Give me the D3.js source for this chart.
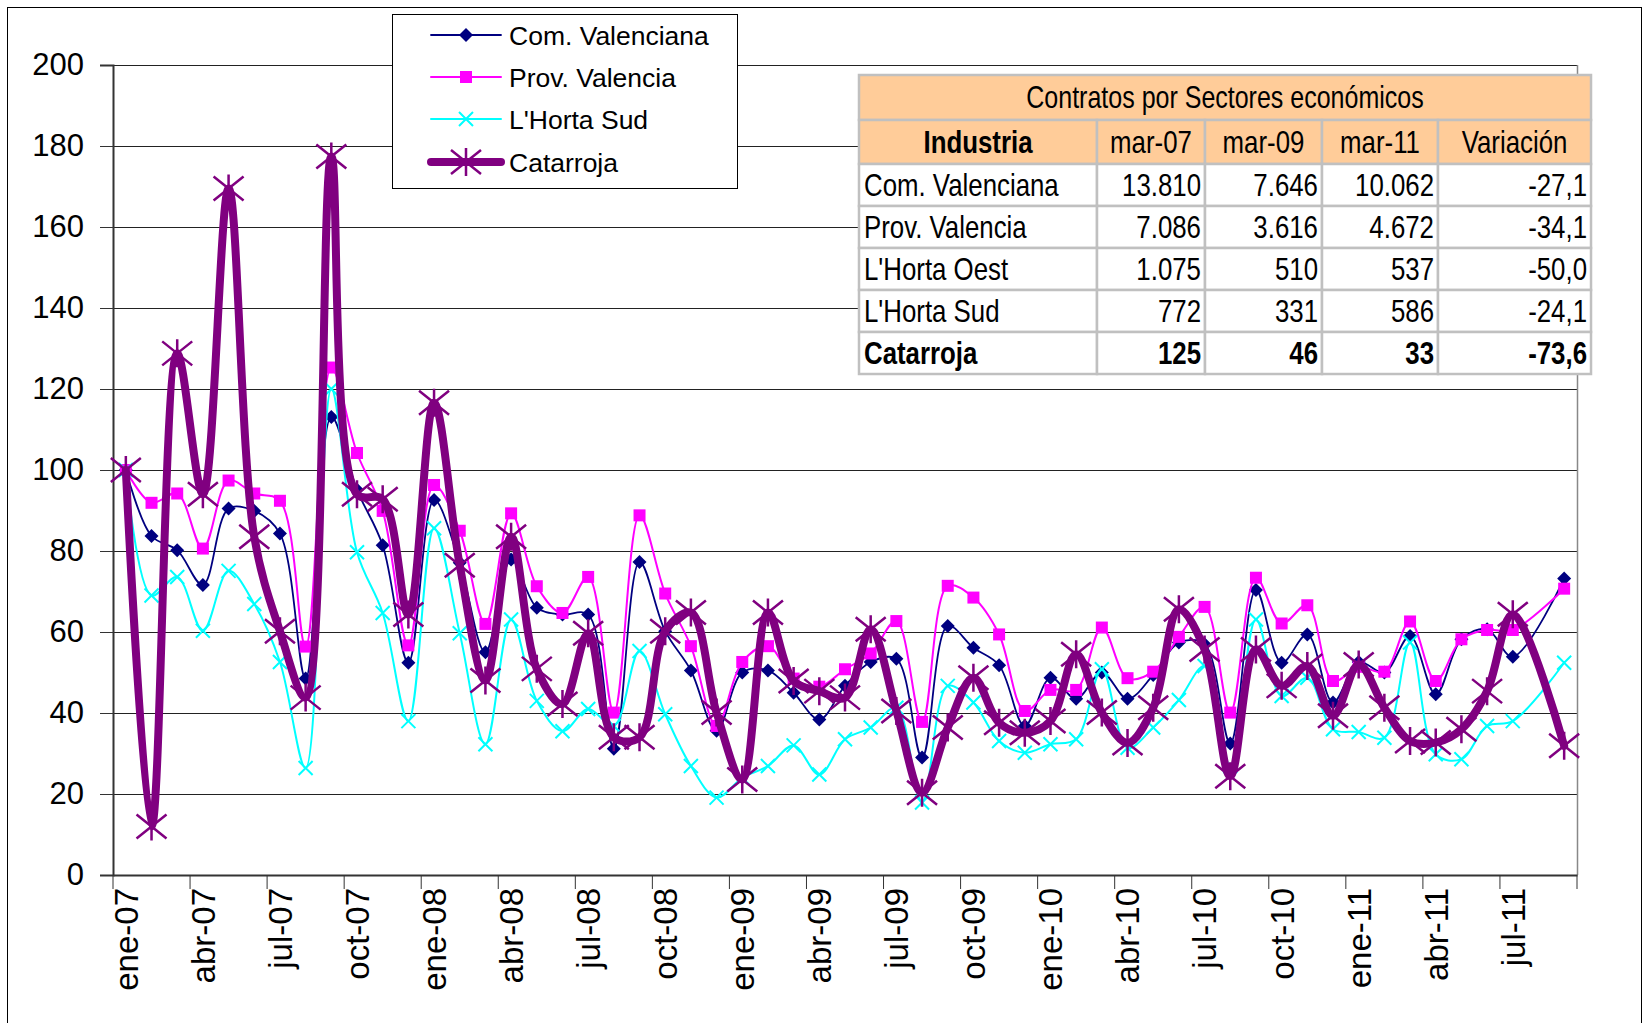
<!DOCTYPE html>
<html lang="es">
<head>
<meta charset="UTF-8">
<title>Contratos Industria</title>
<style>
  body { margin: 0; background: #fff; }
  svg { display: block; }
  .axis text { font-family: "Liberation Sans", Arial, sans-serif; fill: #000; }
  .tbl text { font-family: "Liberation Sans", Arial, sans-serif; fill: #000; }
</style>
</head>
<body>
<svg id="chart" width="1643" height="1023"></svg>
<script src="https://d3js.org/d3.v7.min.js"></script>
<script>
// months (ene-07 .. sep-11), ago-11 has no data
const months = [
  "ene-07","feb-07","mar-07","abr-07","may-07","jun-07","jul-07","ago-07","sep-07","oct-07","nov-07","dic-07",
  "ene-08","feb-08","mar-08","abr-08","may-08","jun-08","jul-08","ago-08","sep-08","oct-08","nov-08","dic-08",
  "ene-09","feb-09","mar-09","abr-09","may-09","jun-09","jul-09","ago-09","sep-09","oct-09","nov-09","dic-09",
  "ene-10","feb-10","mar-10","abr-10","may-10","jun-10","jul-10","ago-10","sep-10","oct-10","nov-10","dic-10",
  "ene-11","feb-11","mar-11","abr-11","may-11","jun-11","jul-11","ago-11","sep-11"
];

const comValenciana = [100, 83.7, 80.2, 71.6, 90.5, 89.9, 84.3, 48.5, 113.1, 95.1,
  81.4, 52.4, 92.6, 77.1, 55, 77.9, 66, 64.3, 64.3, 31.2,
  77.3, 60.2, 50.5, 35.6, 50, 50.5, 45, 38.4, 46.7, 52.6,
  53.4, 29, 61.5, 56.1, 51.8, 36.8, 48.7, 43.5, 50, 43.5,
  49.4, 57.4, 57, 32.5, 70.4, 52.4, 59.4, 42.6, 52.6, 50,
  59, 44.6, 58.2, 60.7, 53.9, null, 73.2];

const provValencia = [100, 91.9, 94.2, 80.6, 97.4, 94.2, 92.4, 56.4, 125.3, 104.2,
  89.9, 56.7, 96.3, 85, 62, 89.3, 71.3, 64.7, 73.6, 40.1,
  88.8, 69.5, 56.5, 36.8, 52.6, 56.5, 48.5, 46.5, 50.8, 54.7,
  62.7, 37.8, 71.4, 68.5, 59.4, 40.5, 45.7, 45.7, 61.1, 48.6,
  50.2, 58.8, 66.2, 40.1, 73.4, 62.1, 66.6, 47.9, 51.4, 50.2,
  62.6, 47.9, 58.2, 60.5, 60.5, null, 70.7];

const hortaSud = [100, 69, 73.6, 60.3, 75.1, 66.9, 52.6, 26.4, 120, 79.7,
  64.7, 38, 85.6, 59.7, 32.3, 63.1, 43, 35.5, 41, 36.8,
  55.3, 39.7, 26.9, 19.1, 24, 26.9, 32, 24.8, 33.5, 36.4,
  41.3, 17.9, 46.7, 42.6, 33.1, 30.2, 32.3, 33.5, 50.8, 31.4,
  36.4, 43.2, 51.6, 26.9, 63.1, 44.2, 48.7, 36, 35.3, 33.9,
  57.4, 29.8, 28.6, 36.8, 38, null, 52.4];

const catarroja = [100, 12, 128.8, 94, 169.5, 83.5, 60.2, 43.8, 177.4, 94,
  92.8, 64.3, 116.6, 76.5, 48, 83.5, 50.9, 42.2, 59.7, 34,
  34, 60.2, 64.8, 40.1, 23.6, 64.8, 47.9, 45.4, 43.8, 60.7,
  40.5, 20.3, 36.4, 48.7, 37.6, 35.1, 38, 54.5, 40.1, 32.6,
  41.3, 65.6, 55.7, 24.4, 55.7, 46.7, 51.6, 39.3, 52, 41.3,
  33.1, 32.7, 36, 45.4, 64.4, null, 31.9];

const seriesNames = ["Com. Valenciana", "Prov. Valencia", "L'Horta Sud", "Catarroja"];

// table
const tableTitle = "Contratos por Sectores económicos";
const tableHeader = ["Industria", "mar-07", "mar-09", "mar-11", "Variación"];
const tableNames = ["Com. Valenciana", "Prov. Valencia", "L'Horta Oest", "L'Horta Sud", "Catarroja"];
const tableMar07 = ["13.810", "7.086", "1.075", "772", "125"];
const tableMar09 = ["7.646", "3.616", "510", "331", "46"];
const tableMar11 = ["10.062", "4.672", "537", "586", "33"];
const tableVar = ["-27,1", "-34,1", "-50,0", "-24,1", "-73,6"];

const yTicks = [0, 20, 40, 60, 80, 100, 120, 140, 160, 180, 200];

const svg = d3.select("#chart");
const W = 1643, H = 1023;
const pLeft = 113, pRight = 1577, pTop = 65, pBottom = 875;

// outer frame
svg.append("rect").attr("x", 7.5).attr("y", 7.5).attr("width", W - 9).attr("height", H + 10)
  .attr("fill", "#fff").attr("stroke", "#000").attr("stroke-width", 1);

const x = d3.scaleBand().domain(months).range([pLeft, pRight]).padding(0);
const y = d3.scaleLinear().domain([0, 200]).range([pBottom, pTop]);
const bw = x.bandwidth();
const cx = m => x(m) + bw / 2;

// gridlines
svg.append("g").selectAll("line").data(yTicks.filter(d => d > 0)).join("line")
  .attr("x1", pLeft).attr("x2", pRight)
  .attr("y1", d => Math.round(y(d)) + 0.5).attr("y2", d => Math.round(y(d)) + 0.5)
  .attr("stroke", "#222").attr("stroke-width", 1);

// plot right border
svg.append("line").attr("x1", pRight + 0.5).attr("x2", pRight + 0.5).attr("y1", pTop).attr("y2", pBottom)
  .attr("stroke", "#888").attr("stroke-width", 1.5);

// y axis
const yAxis = svg.append("g").attr("class", "axis").attr("transform", `translate(${pLeft},0)`)
  .call(d3.axisLeft(y).tickValues(yTicks).tickSize(13).tickPadding(16));
yAxis.select(".domain").attr("stroke", "#333").attr("stroke-width", 2);
yAxis.selectAll(".tick line").attr("stroke", "#333");
yAxis.selectAll("text").style("font-size", "31px");

// x axis
const labelMonths = months.filter((m, i) => i % 3 === 0);
const xAxis = svg.append("g").attr("class", "axis").attr("transform", `translate(0,${pBottom})`)
  .call(d3.axisBottom(x).tickValues(labelMonths).tickSize(14).tickSizeOuter(0));
xAxis.select(".domain").attr("stroke", "#333").attr("stroke-width", 2);
xAxis.selectAll(".tick line").attr("x1", -bw / 2).attr("x2", -bw / 2).attr("stroke", "#333");
xAxis.selectAll(".tick text")
  .style("font-size", "33px")
  .attr("text-anchor", "end")
  .attr("transform", "rotate(-90)")
  .attr("x", -13).attr("y", 0).attr("dy", "0.36em");
// closing tick at the right end
svg.append("line").attr("x1", pRight).attr("x2", pRight).attr("y1", pBottom).attr("y2", pBottom + 14)
  .attr("stroke", "#333");

// series
const series = [
  { name: seriesNames[0], values: comValenciana, color: "#000080", width: 1.8, marker: "diamond" },
  { name: seriesNames[1], values: provValencia, color: "#ff00ff", width: 2, marker: "square" },
  { name: seriesNames[2], values: hortaSud, color: "#00ffff", width: 2, marker: "x" },
  { name: seriesNames[3], values: catarroja, color: "#800080", width: 8, marker: "star" }
];

const line = d3.line().x(d => d.x).y(d => d.y).curve(d3.curveCatmullRom.alpha(0.5));

function drawMarker(g, type, color) {
  if (type === "diamond") {
    g.append("path").attr("d", "M0,-7L7,0L0,7L-7,0Z").attr("fill", color);
  } else if (type === "square") {
    g.append("rect").attr("x", -6).attr("y", -6).attr("width", 12).attr("height", 12).attr("fill", color);
  } else if (type === "x") {
    g.append("path").attr("d", "M-7,-7L7,7M-7,7L7,-7").attr("stroke", color).attr("stroke-width", 2).attr("fill", "none");
  } else if (type === "star") {
    g.append("path").attr("d", "M-15,-12L15,12M-15,12L15,-12M0,-14L0,14")
      .attr("stroke", color).attr("stroke-width", 2.5).attr("fill", "none");
  }
}

series.forEach(s => {
  const pts = months.map((m, i) => ({ x: cx(m), y: s.values[i] == null ? null : y(s.values[i]) }))
    .filter(p => p.y != null);
  svg.append("path").datum(pts).attr("d", line)
    .attr("fill", "none").attr("stroke", s.color).attr("stroke-width", s.width)
    .attr("stroke-linejoin", "round").attr("stroke-linecap", "round");
  const mg = svg.append("g");
  pts.forEach(p => {
    const g = mg.append("g").attr("transform", `translate(${p.x},${p.y})`);
    drawMarker(g, s.marker, s.color);
  });
});

// legend
const leg = svg.append("g");
leg.append("rect").attr("x", 392.5).attr("y", 14.5).attr("width", 345).attr("height", 174)
  .attr("fill", "#fff").attr("stroke", "#000").attr("stroke-width", 1);
const legY = [35, 77, 119, 162];
series.forEach((s, i) => {
  leg.append("line").attr("x1", 431).attr("x2", 501).attr("y1", legY[i]).attr("y2", legY[i])
    .attr("stroke", s.color).attr("stroke-width", s.width).attr("stroke-linecap", "round");
  const g = leg.append("g").attr("transform", `translate(466,${legY[i]})`);
  drawMarker(g, s.marker, s.color);
  leg.append("text").attr("x", 509).attr("y", legY[i]).attr("dy", "0.36em")
    .style("font-family", "'Liberation Sans', Arial, sans-serif").style("font-size", "26.5px")
    .text(s.name);
});

// table (narrow type: Liberation Sans squeezed horizontally)
const tbl = svg.append("g").attr("class", "tbl");
const colX = [859, 1097, 1205, 1322, 1438, 1591];
const rowY = [75, 120, 164, 206, 248, 290, 332, 374];
const border = "#c0c0c0";
const narrow = 0.82;

function cellText(tx, ty, anchor, size, bold, str) {
  tbl.append("text").attr("transform", `translate(${tx},${ty}) scale(${narrow},1)`)
    .attr("dy", "0.36em").attr("text-anchor", anchor)
    .style("font-size", size + "px").style("font-weight", bold ? "bold" : "normal")
    .text(str);
}

tbl.append("rect").attr("x", colX[0]).attr("y", rowY[0]).attr("width", colX[5] - colX[0])
  .attr("height", rowY[1] - rowY[0]).attr("fill", "#ffcc99").attr("stroke", border).attr("stroke-width", 2.5);
cellText((colX[0] + colX[5]) / 2, (rowY[0] + rowY[1]) / 2, "middle", 30.5, false, tableTitle);

const rows = [tableHeader].concat(tableNames.map((n, i) => [n, tableMar07[i], tableMar09[i], tableMar11[i], tableVar[i]]));
rows.forEach((r, ri) => {
  const y0 = rowY[ri + 1], y1 = rowY[ri + 2];
  r.forEach((c, ci) => {
    tbl.append("rect").attr("x", colX[ci]).attr("y", y0).attr("width", colX[ci + 1] - colX[ci]).attr("height", y1 - y0)
      .attr("fill", ri === 0 ? "#ffcc99" : "#fff").attr("stroke", border).attr("stroke-width", 2.5);
    let tx, anchor;
    if (ri === 0) { tx = (colX[ci] + colX[ci + 1]) / 2; anchor = "middle"; }
    else if (ci === 0) { tx = colX[ci] + 5; anchor = "start"; }
    else { tx = colX[ci + 1] - 4; anchor = "end"; }
    cellText(tx, (y0 + y1) / 2, anchor, 31.5, ri === 5 || (ri === 0 && ci === 0), c);
  });
});
</script>
</body>
</html>
